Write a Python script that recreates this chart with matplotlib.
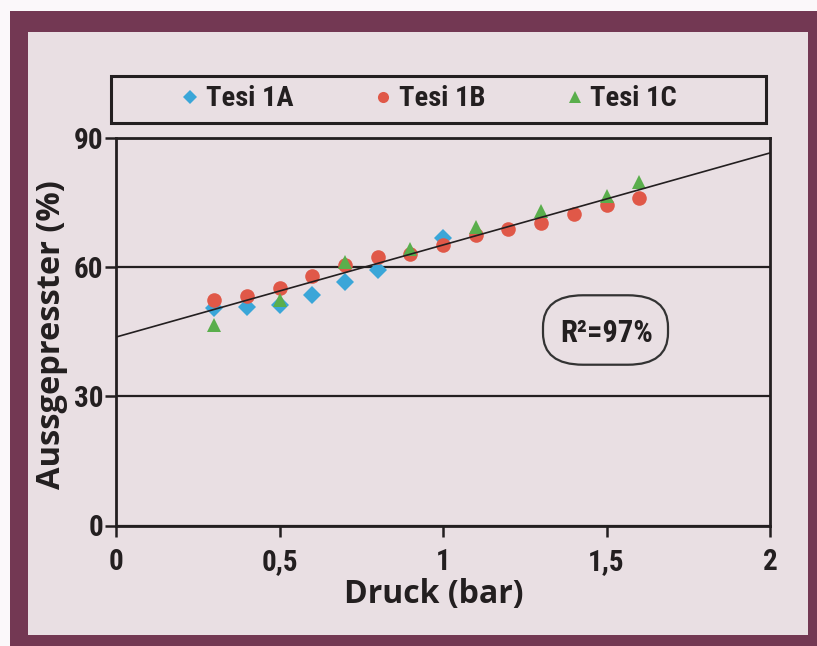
import matplotlib
matplotlib.use("Agg")
import matplotlib.pyplot as plt
from matplotlib.patches import Rectangle, FancyBboxPatch
from matplotlib.lines import Line2D
import numpy as np

# ---------------- data ----------------
x_1a = [0.3, 0.4, 0.5, 0.6, 0.7, 0.8, 1.0]
y_1a = [50.6, 50.9, 51.3, 53.6, 56.5, 59.4, 66.8]

x_1b = [0.3, 0.4, 0.5, 0.6, 0.7, 0.8, 0.9, 1.0, 1.1, 1.2, 1.3, 1.4, 1.5, 1.6]
y_1b = [52.4, 53.4, 55.2, 57.9, 60.6, 62.5, 63.2, 65.2, 67.5, 69.0, 70.2, 72.5, 74.4, 76.1]

x_1c = [0.3, 0.5, 0.7, 0.9, 1.1, 1.3, 1.5, 1.6]
y_1c = [46.6, 52.5, 61.3, 64.2, 69.3, 73.2, 76.5, 79.8]

series_names = ["Tesi 1A", "Tesi 1B", "Tesi 1C"]

fit_intercept = 43.8
fit_slope = 21.4
r2_label = "R²=97%"

x_ticks = [0, 0.5, 1, 1.5, 2]
x_tick_labels = ["0", "0,5", "1", "1,5", "2"]
y_ticks = [0, 30, 60, 90]
y_tick_labels = ["0", "30", "60", "90"]
x_label = "Druck (bar)"
y_label = "Aussgepresster (%)"

# ---------------- style ----------------
W, H = 817, 646
MAROON = "#733853"
PANEL = "#e9dfe3"
INK = "#231f20"
BLUE = "#3aa6d8"
RED = "#e05848"
GREEN = "#5aae4c"
COND = ["Liberation Sans Narrow", "Roboto Condensed", "Roboto", "DejaVu Sans"]
HUM = ["Open Sans", "DejaVu Sans"]

def fx(x):
    return x / W

def fy(y):
    return 1 - y / H

fig = plt.figure(figsize=(W / 100, H / 100), dpi=100)
fig.patch.set_facecolor("#fbf8fa")

# frame and panel (behind everything)
fig.patches.append(Rectangle((fx(10), fy(646)), fx(817) - fx(10), fy(11) - fy(646),
                             transform=fig.transFigure, facecolor=MAROON, edgecolor="none", zorder=-20))
fig.patches.append(Rectangle((fx(28), fy(635)), fx(808) - fx(28), fy(32) - fy(635),
                             transform=fig.transFigure, facecolor=PANEL, edgecolor="none", zorder=-19))

# axes
ax_left, ax_right, ax_top, ax_bottom = 116, 770, 138.3, 525.5
ax = fig.add_axes([fx(ax_left), fy(ax_bottom), fx(ax_right) - fx(ax_left), fy(ax_top) - fy(ax_bottom)])
ax.set_zorder(1)
ax.set_facecolor(PANEL)
ax.set_xlim(0, 2)
ax.set_ylim(0, 90)

for sp in ax.spines.values():
    sp.set_color(INK)
    sp.set_linewidth(2.0)

ax.set_yticks(y_ticks)
ax.set_yticklabels(y_tick_labels)
ax.set_xticks(x_ticks)
ax.set_xticklabels(x_tick_labels)
ax.tick_params(axis="both", direction="out", length=8, width=1.8, color=INK,
               labelcolor=INK, labelsize=21)
ax.tick_params(axis="y", pad=1)
ax.tick_params(axis="x", pad=8)
for lab in ax.get_xticklabels() + ax.get_yticklabels():
    lab.set_family(COND)
    lab.set_fontweight("bold")
    lab.set_fontstretch("condensed")

ax.yaxis.grid(True, color=INK, linewidth=1.6)
ax.set_axisbelow(True)

# data
ms = 10.5
ax.plot(x_1a, y_1a, linestyle="none", marker="D", markersize=ms * 0.85, color=BLUE,
        markeredgewidth=0, zorder=3)
ax.plot(x_1b, y_1b, linestyle="none", marker="o", markersize=ms, color=RED,
        markeredgewidth=0, zorder=3)
ax.plot(x_1c, y_1c, linestyle="none", marker="^", markersize=ms, color=GREEN,
        markeredgewidth=0, zorder=4)

fit_x = np.array(ax.get_xlim())
ax.plot(fit_x, fit_intercept + fit_slope * fit_x, color=INK, linewidth=1.2, zorder=5)

ax.set_xlabel(x_label, family=HUM, fontweight="bold", fontsize=23, color=INK)
ax.set_ylabel(y_label, family=HUM, fontweight="bold", fontsize=23.5, color=INK)
ax.xaxis.set_label_coords((433.5 - ax_left) / (ax_right - ax_left),
                          -(595 - ax_bottom) / (ax_bottom - ax_top))
ax.xaxis.label.set_va("center")
ax.yaxis.set_label_coords(-(ax_left - 52) / (ax_right - ax_left),
                          (ax_bottom - 335) / (ax_bottom - ax_top))
ax.yaxis.label.set_va("center")

# R^2 box
r2box = FancyBboxPatch((fx(543 + 30), fy(371 - 30)), fx(668 - 543 - 60), fy(289 + 30) - fy(371 - 30),
                       boxstyle="round,pad=0,rounding_size=0.03",
                       transform=fig.transFigure, facecolor="none",
                       edgecolor="#333333", linewidth=1.6, zorder=6)
r2box.set_boxstyle("round", pad=30 / W, rounding_size=40 / W)
fig.patches.append(r2box)
fig.text(fx(607), fy(333), r2_label, ha="center", va="center", family=COND,
         fontweight="bold", fontstretch="condensed", fontsize=22, color=INK, zorder=7)

# legend box
fig.patches.append(Rectangle((fx(111), fy(123)), fx(766) - fx(111), fy(76) - fy(123),
                             transform=fig.transFigure, facecolor="none", edgecolor=INK,
                             linewidth=2.2, zorder=6))
handles = [
    Line2D([], [], linestyle="none", marker="D", markersize=7, color=BLUE, markeredgewidth=0),
    Line2D([], [], linestyle="none", marker="o", markersize=8, color=RED, markeredgewidth=0),
    Line2D([], [], linestyle="none", marker="^", markersize=8, color=GREEN, markeredgewidth=0),
]
leg = fig.legend(handles, series_names, loc="center", bbox_to_anchor=(fx(430), fy(99)),
                 ncol=3, frameon=False, handlelength=0.5, handletextpad=0.3,
                 columnspacing=2.9,
                 prop={"family": COND, "weight": "bold", "size": 20.5, "stretch": "condensed"})
for t in leg.get_texts():
    t.set_color(INK)

fig.savefig("out.png", dpi=100, facecolor=fig.get_facecolor())
